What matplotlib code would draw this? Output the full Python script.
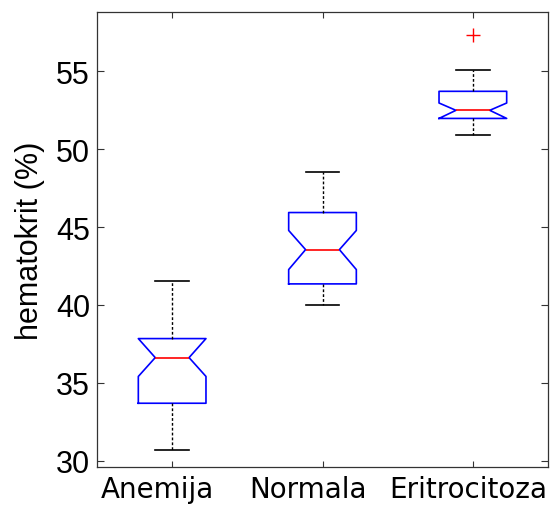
import matplotlib
matplotlib.use("Agg")
from matplotlib import pyplot as plt
from matplotlib import transforms as mtransforms

plt.rcParams['font.family'] = ['Liberation Sans', 'DejaVu Sans']
plt.rcParams['font.size'] = 22

# data
groups = ["Anemija", "Normala", "Eritrocitoza"]
q1 = [33.69, 41.35, 51.97]
med = [36.62, 43.55, 52.49]
q3 = [37.84, 45.93, 53.71]
whislo = [30.68, 39.97, 50.89]
whishi = [41.55, 48.51, 55.09]
cilo = [35.41, 42.27, 51.97]
cihi = [37.84, 44.78, 52.96]
fliers = [[], [], [57.35]]

stats = []
for i, g in enumerate(groups):
    stats.append(dict(label=g, q1=q1[i], med=med[i], q3=q3[i],
                      whislo=whislo[i], whishi=whishi[i],
                      cilo=cilo[i], cihi=cihi[i], fliers=fliers[i]))

fig = plt.figure(figsize=(5.51, 5.10), dpi=100)
ax = fig.add_axes([0.176, 0.0824, 0.8186, 0.8921])

ax.bxp(stats, positions=[1, 2, 3], widths=0.45, shownotches=True,
       boxprops=dict(color='#0000ff', linewidth=1.2),
       medianprops=dict(color='#ff0000', linewidth=1.2),
       whiskerprops=dict(color='black', linewidth=1.0, linestyle=(0, (2, 1.5))),
       capprops=dict(color='black', linewidth=1.2),
       flierprops=dict(marker='+', markeredgecolor='#ff0000', markersize=10,
                       markeredgewidth=1.0, linestyle='none'))

ax.set_xlim(0.5, 3.5)
ax.set_ylim(29.6, 58.8)
ax.set_yticks([30, 35, 40, 45, 50, 55])
ax.set_ylabel("hematokrit (%)", labelpad=8)
ax.tick_params(direction='in', top=True, right=True, length=5, width=0.8,
               color='#333333', labelsize=22, pad=5)
ax.tick_params(axis='x', length=4, pad=6)
for s in ax.spines.values():
    s.set_color('#333333')
    s.set_linewidth(0.9)

# x labels in the reference are in a wider font and sit a bit to the left
shifts = [-15, -15, -5]
for lab, dx in zip(ax.get_xticklabels(), shifts):
    lab.set_fontfamily('DejaVu Sans')
    lab.set_fontsize(20)
    lab.set_transform(lab.get_transform() +
                      mtransforms.ScaledTranslation(dx / 100, 0, fig.dpi_scale_trans))

fig.savefig('out.png', dpi=100)
